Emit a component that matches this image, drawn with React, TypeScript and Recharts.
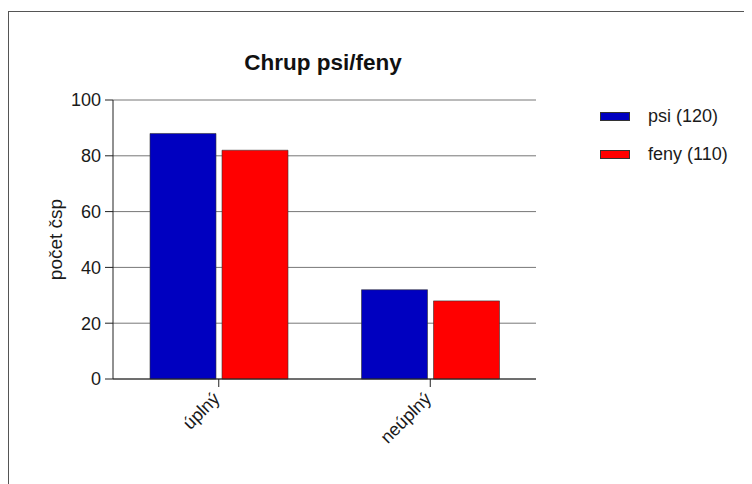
import { BarChart, Bar, XAxis, YAxis, CartesianGrid, Legend } from 'recharts'

// Data
const categories = ['úplný', 'neúplný']
const psiValues = [88, 32]
const fenyValues = [82, 28]
const yTicks = [0, 20, 40, 60, 80, 100]

const seriesInfo = [
  { key: 'psi', name: 'psi (120)', color: '#0000C0' },
  { key: 'feny', name: 'feny (110)', color: '#FF0000' },
]

const FONT = '"Liberation Sans", Arial, sans-serif'

const chartData = categories.map((cat, i) => ({
  category: cat,
  psi: psiValues[i],
  feny: fenyValues[i],
}))

function AngledTick(props: any) {
  const { x, y, payload } = props
  return (
    <g transform={`translate(${x + 2},${y + 11})`}>
      <text
        textAnchor="end"
        transform="rotate(-45)"
        fontSize={18}
        fontFamily={FONT}
        fill="#1a1a1a"
      >
        {payload.value}
      </text>
    </g>
  )
}

function LegendBox() {
  return (
    <div style={{ fontFamily: FONT, fontSize: 18, color: '#1a1a1a' }}>
      {seriesInfo.map((s) => (
        <div
          key={s.key}
          style={{ display: 'flex', alignItems: 'center', height: 38 }}
        >
          <span
            style={{
              display: 'inline-block',
              width: 30,
              height: 9,
              background: s.color,
              border: '1px solid #333',
              boxSizing: 'border-box',
              marginRight: 18,
            }}
          />
          <span>{s.name}</span>
        </div>
      ))}
    </div>
  )
}

export default function App() {
  return (
    <div style={{ position: 'relative', width: 744, height: 476 }}>
      {/* frame lines seen along top and left of the reference */}
      <div
        style={{
          position: 'absolute',
          left: 0,
          top: 3,
          width: 744,
          height: 473,
          borderTop: '1px solid #555',
          borderLeft: '1px solid #555',
          boxSizing: 'border-box',
        }}
      />
      <BarChart
        width={744}
        height={476}
        data={chartData}
        margin={{ top: 92, right: 216, left: 45, bottom: 45 }}
        barSize={66}
        barGap={6}
      >
        <CartesianGrid vertical={false} stroke="#777" />
        <XAxis
          dataKey="category"
          height={60}
          tick={<AngledTick />}
          tickSize={8}
          stroke="#222"
          interval={0}
        />
        <YAxis
          width={60}
          domain={[0, 100]}
          ticks={yTicks}
          tickSize={8}
          tickMargin={4}
          stroke="#222"
          tick={{ fontSize: 18, fontFamily: FONT, fill: '#1a1a1a' }}
          label={{
            value: 'počet čsp',
            angle: -90,
            position: 'center',
            dx: -28,
            style: { fontSize: 19, fontFamily: FONT, fill: '#1a1a1a' },
          }}
        />
        <Legend
          layout="vertical"
          align="center"
          verticalAlign="middle"
          content={<LegendBox />}
          wrapperStyle={{ top: 89, left: 592, width: 150 }}
        />
        {seriesInfo.map((s) => (
          <Bar
            key={s.key}
            dataKey={s.key}
            name={s.name}
            fill={s.color}
            stroke="#333"
            strokeWidth={0.6}
            isAnimationActive={false}
          />
        ))}
      </BarChart>
      <svg
        width={744}
        height={476}
        style={{ position: 'absolute', left: 0, top: 0, pointerEvents: 'none' }}
      >
        <text
          x={315}
          y={62}
          textAnchor="middle"
          fontSize={22.5}
          fontWeight="bold"
          fontFamily={FONT}
          fill="#111"
        >
          Chrup psi/feny
        </text>
      </svg>
    </div>
  )
}
